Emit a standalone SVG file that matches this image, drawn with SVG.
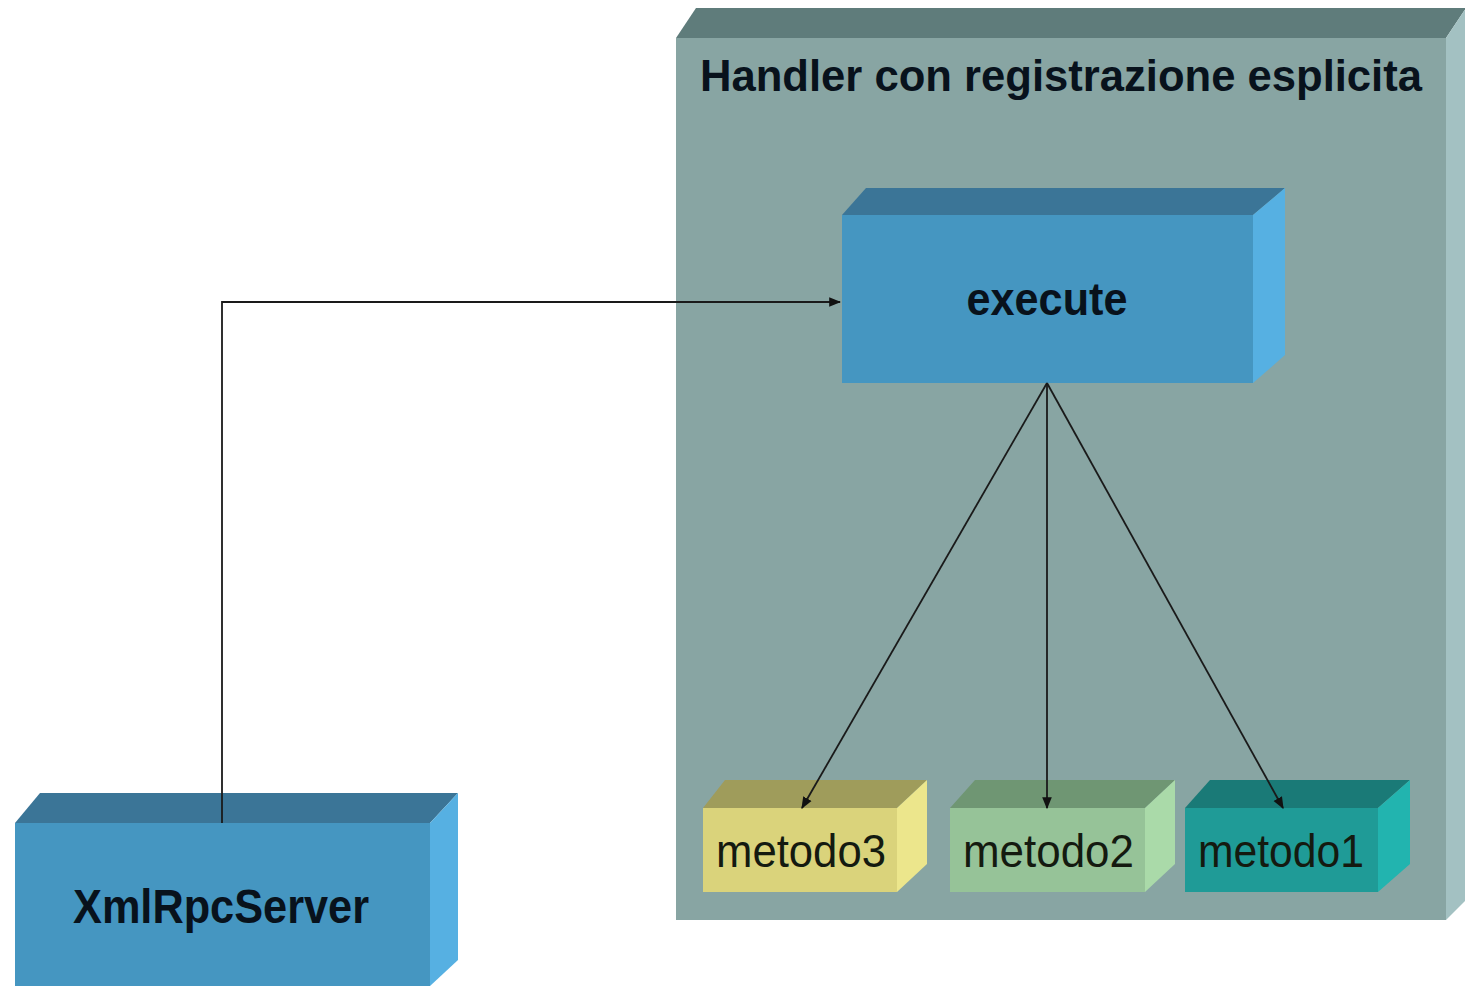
<svg xmlns="http://www.w3.org/2000/svg" width="1465" height="986" viewBox="0 0 1465 986">
  <defs>
    <style>
      .lbl-b { font-family: "Liberation Sans", Arial, sans-serif; font-weight: bold; fill: #08121c; }
      .lbl-r { font-family: "Liberation Sans", Arial, sans-serif; fill: #141a10; }
      .conn { fill: none; stroke: #1a1a1a; stroke-width: 1.8; }
    </style>
    <marker id="arrowL" viewBox="0 0 10 10" refX="9" refY="5" markerWidth="12" markerHeight="12" orient="auto" markerUnits="userSpaceOnUse">
      <path d="M0,1 L10,5 L0,9 Z" fill="#111"/>
    </marker>
  </defs>

  <rect width="1465" height="986" fill="#ffffff"/>

  <!-- container: Handler con registrazione esplicita -->
  <g id="handler">
    <polygon points="676,38 696,8 1466,8 1446,38" fill="#5f7c7b"/>
    <polygon points="1446,38 1466,8 1466,900 1446,920" fill="#a3c1c2"/>
    <rect x="676" y="38" width="770" height="882" fill="#88a5a3"/>
    <text class="lbl-b" x="700" y="91" font-size="44" textLength="722" lengthAdjust="spacingAndGlyphs">Handler con registrazione esplicita</text>
  </g>

  <!-- execute -->
  <g id="execute">
    <polygon points="842,215 866,188 1285,188 1253,215" fill="#3b7597"/>
    <polygon points="1253,215 1285,188 1285,355 1253,383" fill="#56b0e2"/>
    <rect x="842" y="215" width="411" height="168" fill="#4596c1"/>
    <text class="lbl-b" x="1047" y="315" font-size="46" text-anchor="middle" textLength="161" lengthAdjust="spacingAndGlyphs">execute</text>
  </g>

  <!-- metodo3 -->
  <g id="metodo3">
    <polygon points="703,808 725,780 927,780 897,808" fill="#9f9c5b"/>
    <polygon points="897,808 927,780 927,864 897,892" fill="#ece68c"/>
    <rect x="703" y="808" width="194" height="84" fill="#dad37b"/>
    <text class="lbl-r" x="716" y="867" font-size="46" textLength="170" lengthAdjust="spacingAndGlyphs">metodo3</text>
  </g>

  <!-- metodo2 -->
  <g id="metodo2">
    <polygon points="950,808 975,780 1175,780 1145,808" fill="#6f9673"/>
    <polygon points="1145,808 1175,780 1175,864 1145,892" fill="#aadaa9"/>
    <rect x="950" y="808" width="195" height="84" fill="#96c398"/>
    <text class="lbl-r" x="963" y="867" font-size="46" textLength="171" lengthAdjust="spacingAndGlyphs">metodo2</text>
  </g>

  <!-- metodo1 -->
  <g id="metodo1">
    <polygon points="1185,808 1210,780 1410,780 1378,808" fill="#1a7a77"/>
    <polygon points="1378,808 1410,780 1410,864 1378,892" fill="#22b4af"/>
    <rect x="1185" y="808" width="193" height="84" fill="#1f9b97"/>
    <text class="lbl-r" x="1198" y="867" font-size="46" textLength="166" lengthAdjust="spacingAndGlyphs">metodo1</text>
  </g>

  <!-- XmlRpcServer -->
  <g id="xmlrpcserver">
    <polygon points="15,823 40,793 458,793 430,823" fill="#3b7597"/>
    <polygon points="430,823 458,793 458,960 430,986" fill="#56b0e2"/>
    <rect x="15" y="823" width="415" height="170" fill="#4596c1"/>
    <text class="lbl-b" x="73" y="923" font-size="48" textLength="296" lengthAdjust="spacingAndGlyphs">XmlRpcServer</text>
  </g>

  <!-- connectors -->
  <g id="connectors">
    <path class="conn" d="M222,823 V302 H840" marker-end="url(#arrowL)"/>
    <path class="conn" d="M1047,383 L802,808" marker-end="url(#arrowL)"/>
    <path class="conn" d="M1047,383 L1047,808" marker-end="url(#arrowL)"/>
    <path class="conn" d="M1047,383 L1283,808" marker-end="url(#arrowL)"/>
  </g>
</svg>
